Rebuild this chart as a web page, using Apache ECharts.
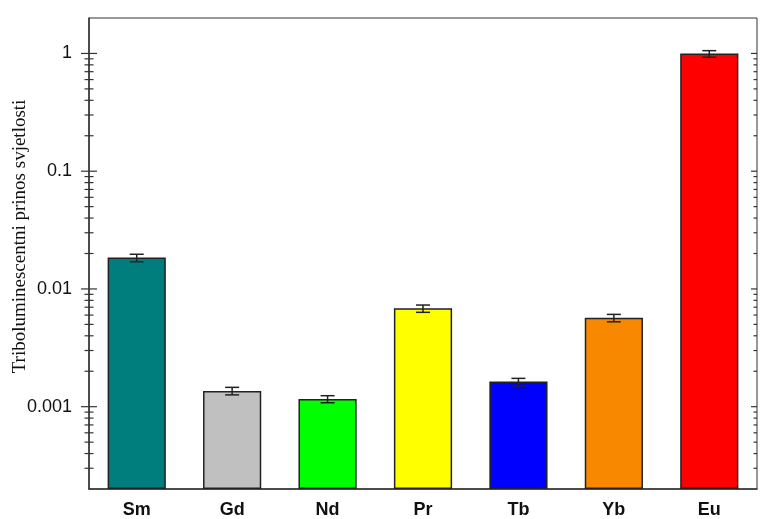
<!DOCTYPE html>
<html>
<head>
<meta charset="utf-8">
<script src="https://cdn.jsdelivr.net/npm/echarts@6/dist/echarts.min.js"></script>
<style>
html,body{margin:0;padding:0;background:#fff;}
#chart{width:760px;height:519px;}
</style>
</head>
<body>
<div id="chart"></div>
<script>
const categories = ['Sm', 'Gd', 'Nd', 'Pr', 'Tb', 'Yb', 'Eu'];
const values = [0.0185, 0.00136, 0.00116, 0.00684, 0.00164, 0.00569, 1.0];
const errUpper = [0.0197, 0.00146, 0.00124, 0.0073, 0.00174, 0.00608, 1.056];
const errLower = [0.0170, 0.00126, 0.00108, 0.00633, 0.0015, 0.00526, 0.929];
const barColors = ['#007D7D', '#C0C0C0', '#00FF00', '#FFFF00', '#0000FF', '#F78800', '#FF0000'];
const yTickValues = [0.001, 0.01, 0.1, 1];
const yTickLabels = ['0.001', '0.01', '0.1', '1'];
const minorDecades = [0.0001, 0.001, 0.01, 0.1];
const minorMultipliers = [2, 3, 4, 5, 6, 7, 8, 9];
const yMin = 0.0002, yMax = 2;
const yTitle = 'Triboluminescentni prinos svjetlosti';

const minorTicks = [];
minorDecades.forEach(d => minorMultipliers.forEach(m => {
  const v = +(d * m).toPrecision(3);
  if (v > yMin && v < yMax) minorTicks.push(v);
}));
const tickData = yTickValues.map(v => [0, v, 1]).concat(minorTicks.map(v => [0, v, 0]));

const chart = echarts.init(document.getElementById('chart'), null, {renderer: 'canvas'});
const axisColor = '#333';

chart.setOption({
  animation: false,
  grid: {left: 89, right: 3, top: 18, bottom: 30, show: true, borderColor: axisColor, borderWidth: 1,
         backgroundColor: 'transparent', containLabel: false, outerBoundsMode: 'none'},
  xAxis: {
    type: 'category',
    data: categories,
    axisLine: {lineStyle: {color: axisColor, width: 1.5}},
    axisTick: {alignWithLabel: true, length: 6, lineStyle: {color: axisColor, width: 1.2}},
    axisLabel: {color: '#111', fontFamily: 'Liberation Sans', fontWeight: 'bold', fontSize: 18, margin: 12}
  },
  yAxis: {
    type: 'log',
    logBase: 10,
    min: yMin,
    max: yMax,
    startValue: yMin,
    name: yTitle,
    nameLocation: 'middle',
    nameGap: 59,
    nameRotate: 90,
    nameMoveOverlap: false,
    nameTextStyle: {fontFamily: 'Liberation Serif', fontSize: 19, color: '#111', padding: [0, 0, 0, 34]},
    axisLine: {show: true, lineStyle: {color: axisColor, width: 1.5}},
    axisTick: {show: false},
    splitLine: {show: false},
    axisLabel: {
      color: '#111', fontFamily: 'Liberation Sans', fontSize: 18, margin: 17,
      showMinLabel: false, showMaxLabel: false,
      formatter: function (v) {
        const l = Math.log10(v);
        const r = Math.round(l);
        if (Math.abs(l - r) > 1e-6) return '';
        const i = yTickValues.findIndex(t => Math.abs(Math.log10(t) - r) < 1e-6);
        return i >= 0 ? yTickLabels[i] : '';
      }
    }
  },
  series: [
    {
      type: 'bar',
      barWidth: '61%',
      data: values.map((v, i) => ({value: v, itemStyle: {color: barColors[i]}})),
      itemStyle: {borderColor: '#222', borderWidth: 1.5},
      z: 2
    },
    {
      type: 'custom',
      data: values.map((v, i) => [i, errLower[i], errUpper[i]]),
      z: 5,
      renderItem: function (params, api) {
        const i = api.value(0);
        const lo = api.coord([i, api.value(1)]);
        const hi = api.coord([i, api.value(2)]);
        const hw = 7;
        const style = {stroke: '#222', lineWidth: 1.5};
        return {
          type: 'group',
          children: [
            {type: 'line', shape: {x1: lo[0], y1: lo[1], x2: hi[0], y2: hi[1]}, style: style},
            {type: 'line', shape: {x1: hi[0] - hw, y1: hi[1], x2: hi[0] + hw, y2: hi[1]}, style: style},
            {type: 'line', shape: {x1: lo[0] - hw, y1: lo[1], x2: lo[0] + hw, y2: lo[1]}, style: style}
          ]
        };
      }
    },
    {
      type: 'custom',
      data: tickData,
      z: 6,
      clip: false,
      renderItem: function (params, api) {
        const cs = params.coordSys;
        const y = api.coord([0, api.value(1)])[1];
        const major = api.value(2) === 1;
        const xl = cs.x, xr = cs.x + cs.width;
        const style = {stroke: axisColor, lineWidth: 1.2};
        const lOut = major ? 8 : 4.5, lIn = major ? 8 : 4.5;
        const rIn = major ? 6 : 3.5;
        return {
          type: 'group',
          children: [
            {type: 'line', shape: {x1: xl - lOut, y1: y, x2: xl + lIn, y2: y}, style: style},
            {type: 'line', shape: {x1: xr - rIn, y1: y, x2: xr, y2: y}, style: style}
          ]
        };
      }
    }
  ]
});
</script>
</body>
</html>
